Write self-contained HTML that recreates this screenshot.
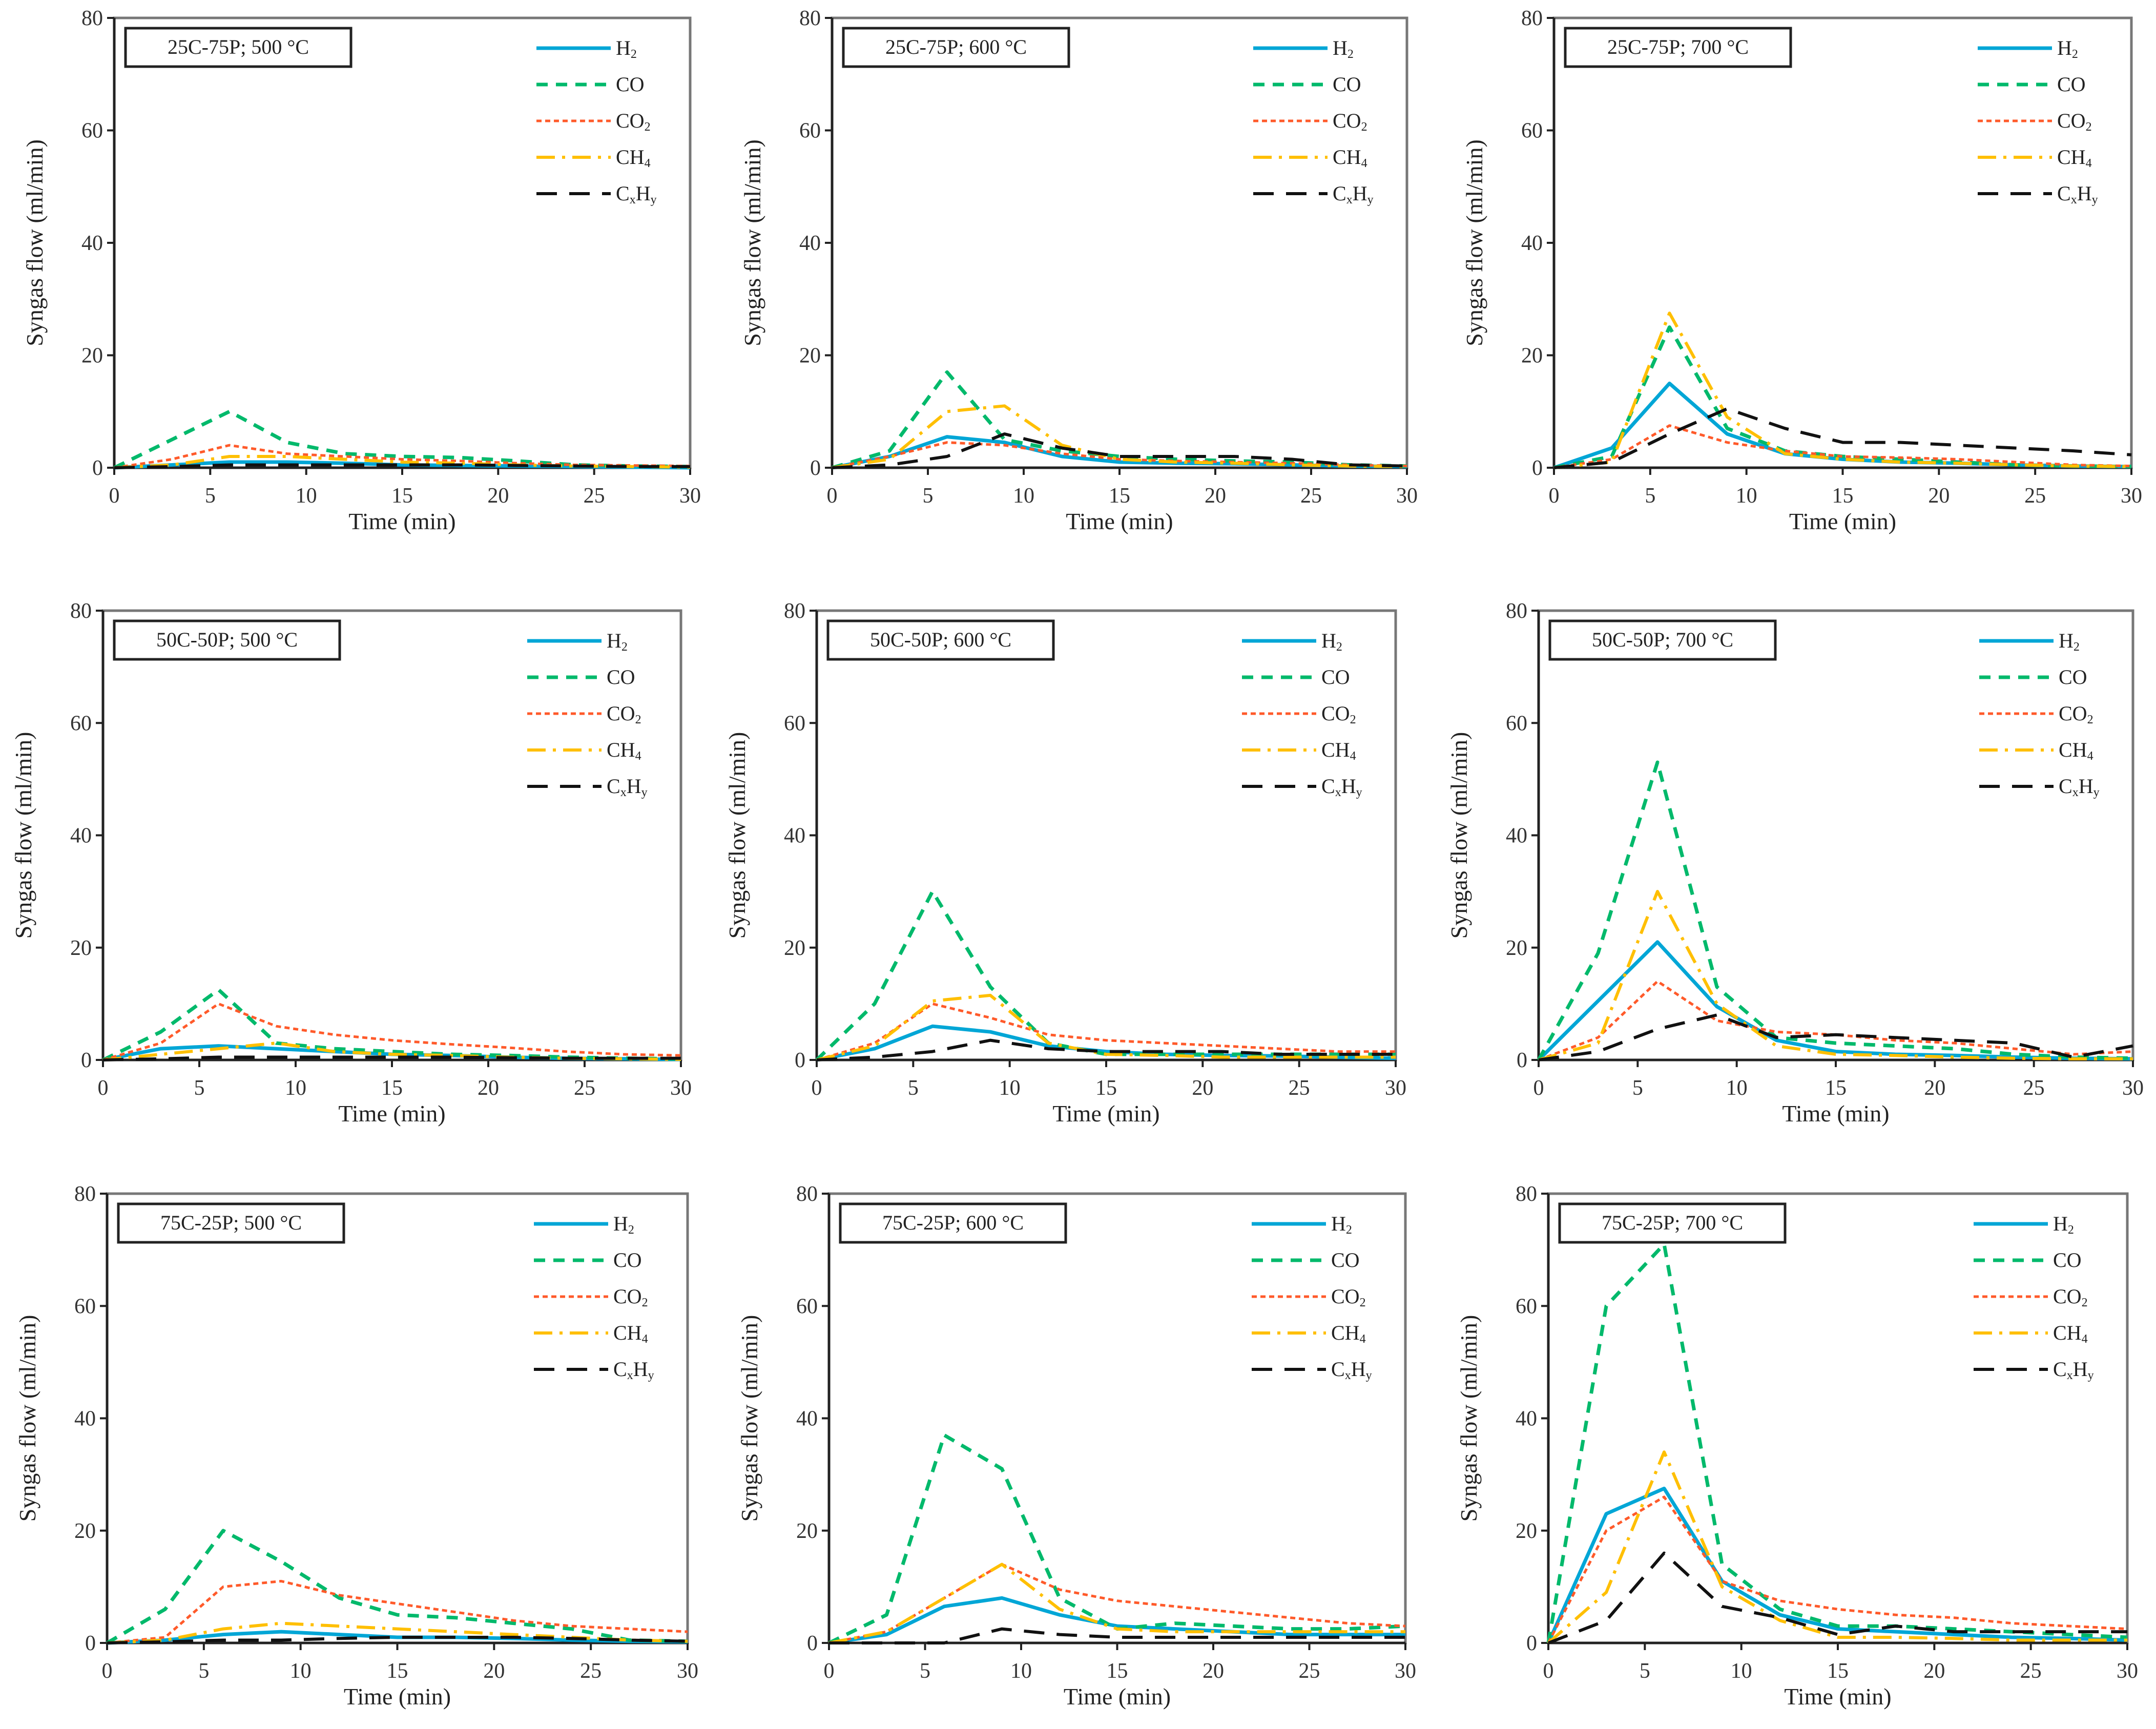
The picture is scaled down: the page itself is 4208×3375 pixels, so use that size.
<!DOCTYPE html>
<html><head><meta charset="utf-8"><style>
html,body{margin:0;padding:0;background:#fff;}
svg{display:block;font-family:"Liberation Serif","DejaVu Serif",serif;}
</style></head><body>
<svg id="fig" width="4208" height="3375" viewBox="0 0 4208 3375" xmlns="http://www.w3.org/2000/svg"></svg>
<script>
const times = [0,3,6,9,12,15,18,21,24,27,30];
const seriesNames = ["H2","CO","CO2","CH4","CxHy"];
const xTicks = [0,5,10,15,20,25,30];
const yTicks = [0,20,40,60,80];
const panelTitles = ["25C-75P; 500 °C","25C-75P; 600 °C","25C-75P; 700 °C","50C-50P; 500 °C","50C-50P; 600 °C","50C-50P; 700 °C","75C-25P; 500 °C","75C-25P; 600 °C","75C-25P; 700 °C"];
// values per panel: [H2, CO, CO2, CH4, CxHy]
const p1H2=[0,0.5,1,1,0.8,0.5,0.4,0.3,0.2,0.1,0], p1CO=[0,5,10,4.5,2.5,2,1.8,1.2,0.5,0.3,0.2], p1CO2=[0,1.5,4,2.5,2,1.5,1.2,0.8,0.5,0.4,0.3], p1CH4=[0,0.5,2,2,1.5,1,0.8,0.5,0.3,0.2,0.1], p1CxHy=[0,0.2,0.5,0.5,0.5,0.5,0.5,0.4,0.3,0.2,0.2];
const p2H2=[0,2,5.5,4.5,2,1,0.8,0.7,0.5,0.3,0.2], p2CO=[0,3,17,5,3,2,1.5,1.2,1,0.5,0.3], p2CO2=[0,2,4.5,4,2.5,1.5,1.2,1,0.8,0.5,0.3], p2CH4=[0,1.5,10,11,4,1.5,1,0.8,0.5,0.3,0.2], p2CxHy=[0,0.5,2,6,3.5,2,2,2,1.5,0.5,0.3];
const p3H2=[0,3.5,15,6,2.5,1.5,1,0.8,0.5,0.3,0.2], p3CO=[0,2,25,7,3,2,1.5,1,0.5,0.3,0.2], p3CO2=[0,1.5,7.5,4.5,3,2,1.8,1.5,1,0.5,0.3], p3CH4=[0,1,27.5,9,2.5,1.5,1,0.8,0.5,0.3,0.2], p3CxHy=[0,1,6,10.5,7,4.5,4.5,4,3.5,3,2.3];
const p4H2=[0,2,2.5,2,1.5,1,0.8,0.5,0.3,0.2,0.1], p4CO=[0,5,12.5,3,2,1.5,1,0.8,0.5,0.3,0.2], p4CO2=[0,3,10,6,4.5,3.5,2.8,2.2,1.5,1,0.8], p4CH4=[0,1,2,3,1.5,1,0.8,0.5,0.3,0.2,0.1], p4CxHy=[0,0.2,0.5,0.5,0.5,0.5,0.5,0.4,0.3,0.3,0.3];
const p5H2=[0,2,6,5,2.5,1.5,1,0.8,0.7,0.5,0.3], p5CO=[0,10,30,13,3,1,1,1,1,1,1], p5CO2=[0,3,10,7.5,4.5,3.5,3,2.5,2,1.5,1.5], p5CH4=[0,2.5,10.5,11.5,3,1,0.8,0.5,0.5,0.5,0.5], p5CxHy=[0,0.5,1.5,3.5,2,1.5,1.5,1.5,1,1,1];
const p6H2=[0,10.5,21,9.5,3.5,1.5,1,0.8,0.5,0.3,0.2], p6CO=[0,19,53,13,4,3,2.5,2,1,0.5,0.3], p6CO2=[0,4,14,7,5,4.5,3.5,3,2,1,1.5], p6CH4=[0,3,30,10,2.5,1,0.8,0.5,0.3,0.2,0.2], p6CxHy=[0,1.5,5.5,8,4,4.5,4,3.5,3,0.5,2.5];
const p7H2=[0,0.5,1.5,2,1.5,1,1,0.8,0.5,0.3,0.2], p7CO=[0,6,20,14.5,8,5,4.5,3.5,2.5,0.5,0.3], p7CO2=[0,1,10,11,8.5,7,5.5,4,3,2.5,2], p7CH4=[0,0.5,2.5,3.5,3,2.5,2,1.5,1,0.5,0.3], p7CxHy=[0,0.2,0.5,0.5,0.8,1,1,1,0.8,0.5,0.3];
const p8H2=[0,1.5,6.5,8,5,3,2.5,2,1.5,1.5,1.5], p8CO=[0,5,37,31,8,2.5,3.5,3,2.5,2.5,3], p8CO2=[0,2,8,14,9.5,7.5,6.5,5.5,4.5,3.5,3], p8CH4=[0,2,8,14,6,2.5,2,2,2,2,2], p8CxHy=[0,0,0,2.5,1.5,1,1,1,1,1,1];
const p9H2=[0,23,27.5,11,5,2.5,2,1.5,1,0.8,0.5], p9CO=[0,60,71,14,6,3,3,2.5,2,1.5,1], p9CO2=[0,20,26,11,7.5,6,5,4.5,3.5,3,2.5], p9CH4=[0,9,34,10,4,1,1,0.8,0.5,0.5,0.5], p9CxHy=[0,4,16,6.5,4.5,1.5,3,2,2,2,2];
const panelData=[[p1H2,p1CO,p1CO2,p1CH4,p1CxHy],[p2H2,p2CO,p2CO2,p2CH4,p2CxHy],[p3H2,p3CO,p3CO2,p3CH4,p3CxHy],[p4H2,p4CO,p4CO2,p4CH4,p4CxHy],[p5H2,p5CO,p5CO2,p5CH4,p5CxHy],[p6H2,p6CO,p6CO2,p6CH4,p6CxHy],[p7H2,p7CO,p7CO2,p7CH4,p7CxHy],[p8H2,p8CO,p8CO2,p8CH4,p8CxHy],[p9H2,p9CO,p9CO2,p9CH4,p9CxHy]];

const boxes=[[223,1347,35,913],[1624,2746,35,913],[3033,4160,35,913],
[201,1329,1192,2069],[1594,2724,1192,2069],[3003,4163,1192,2069],
[209,1342,2330,3207],[1618,2743,2330,3207],[3022,4152,2330,3207]];
const styles=[{c:"#00a6d6",w:7,d:""},{c:"#00b96b",w:7,d:"22,16"},{c:"#ff5a2a",w:5,d:"10,7"},{c:"#ffbf00",w:6,d:"36,14,6,14"},{c:"#111",w:6,d:"40,24"}];
const NS="http://www.w3.org/2000/svg";
const svg=document.getElementById("fig");
function el(tag,attrs,parent){const e=document.createElementNS(NS,tag);for(const k in attrs)e.setAttribute(k,attrs[k]);(parent||svg).appendChild(e);return e;}
function lbl(parent,x,y,base,sub,sub2){
  const t=el("text",{x:x,y:y,"font-size":40,fill:"#222"},parent);
  t.appendChild(document.createTextNode(base));
  if(sub){const s=el("tspan",{"font-size":24,dy:6},t);s.textContent=sub;}
  if(sub2){const a=el("tspan",{dy:-6},t);a.textContent="H";const s2=el("tspan",{"font-size":24,dy:6},t);s2.textContent=sub2;}
  return t;
}
boxes.forEach((b,i)=>{
  const [L,R,T,B]=b;
  const g=el("g",{});
  
  
  const xs=v=>L+(R-L)*v/30, ys=v=>B-(B-T)*v/80;
  const frame=el("rect",{x:L,y:T,width:R-L,height:B-T,fill:"none",stroke:"#777",'stroke-width':5},g);
  
  
  const ya=el("line",{x1:L,y1:T,x2:L,y2:B,stroke:"#222",'stroke-width':5},g);
  
  
  const xa=el("line",{x1:L,y1:B,x2:R,y2:B,stroke:"#222",'stroke-width':5},g);
  
  
  yTicks.forEach(v=>{
    el("line",{x1:L-14,y1:ys(v),x2:L,y2:ys(v),stroke:"#222",'stroke-width':4},g);
    const t=el("text",{x:L-22,y:ys(v)+14,"font-size":42,"text-anchor":"end",fill:"#333"},g);
    
    
    t.textContent=v;
  });
  xTicks.forEach(v=>{
    el("line",{x1:xs(v),y1:B,x2:xs(v),y2:B+14,stroke:"#222",'stroke-width':4},g);
    const t=el("text",{x:xs(v),y:B+68,"font-size":42,"text-anchor":"middle",fill:"#333"},g);
    
    
    t.textContent=v;
  });
  const xt=el("text",{x:(L+R)/2,y:B+120,"font-size":46,"text-anchor":"middle",fill:"#222"},g);
  
  
  xt.textContent="Time (min)";
  const yx=L-140, yy=(T+B)/2;
  const yt=el("text",{x:yx,y:yy,"font-size":46,"text-anchor":"middle",fill:"#222",transform:`rotate(-90 ${yx} ${yy})`},g);
  
  
  yt.textContent="Syngas flow (ml/min)";
  // series
  panelData[i].forEach((vals,si)=>{
    const st=styles[si];
    const pts=vals.map((v,k)=>xs(times[k]).toFixed(1)+","+ys(v).toFixed(1)).join(" ");
    const p=el("polyline",{points:pts,fill:"none",stroke:st.c,'stroke-width':st.w,'stroke-dasharray':st.d,'stroke-linejoin':"round"},g);
    
    
  });
  // title box
  const tb=el("rect",{x:L+22,y:T+20,width:440,height:75,fill:"#fff",stroke:"#222",'stroke-width':5},g);
  
  
  const tt=el("text",{x:L+242,y:T+70,"font-size":40,"text-anchor":"middle",fill:"#222"},g);
  
  
  tt.textContent=panelTitles[i];
  // legend
  const subs=[["H","2"],["CO",""],["CO","2"],["CH","4"],["C","x","y"]];
  styles.forEach((st,si)=>{
    const ly=T+59+si*71;
    const ln=el("line",{x1:R-300,y1:ly,x2:R-155,y2:ly,stroke:st.c,'stroke-width':st.w,'stroke-dasharray':st.d},g);
    
    
    const s=subs[si];
    const t=lbl(g,R-145,ly+13,s[0],s[1],s[2]);
    
    
  });
});
</script>
</body></html>
